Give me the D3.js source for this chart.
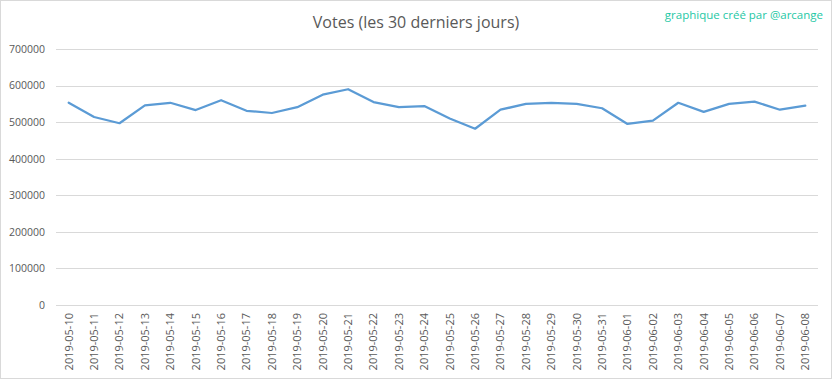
<!DOCTYPE html>
<html><head><meta charset="utf-8">
<script src="https://cdn.jsdelivr.net/npm/d3@7"></script>
<style>
body{margin:0;background:#fff;}
svg{display:block;}
text{font-family:"Open Sans","Liberation Sans",sans-serif;}
</style></head>
<body><svg id="c" width="832" height="379"></svg>
<script>
const dates = ["2019-05-10","2019-05-11","2019-05-12","2019-05-13","2019-05-14","2019-05-15","2019-05-16","2019-05-17","2019-05-18","2019-05-19","2019-05-20","2019-05-21","2019-05-22","2019-05-23","2019-05-24","2019-05-25","2019-05-26","2019-05-27","2019-05-28","2019-05-29","2019-05-30","2019-05-31","2019-06-01","2019-06-02","2019-06-03","2019-06-04","2019-06-05","2019-06-06","2019-06-07","2019-06-08"];
const votes = [553000,514000,497000,546000,553000,533000,560000,531000,525000,541000,575000,590000,555000,541000,544000,510000,482000,534000,550000,553000,550000,538000,495000,504000,553000,528000,550000,556000,534000,545000];
const yTicks = [0,100000,200000,300000,400000,500000,600000,700000];
const title = "Votes (les 30 derniers jours)";
const credit = "graphique créé par @arcange";

const svg = d3.select("#c");
svg.append("rect").attr("x",0.5).attr("y",0.5).attr("width",831).attr("height",378)
  .attr("fill","#fff").attr("stroke","#d9d9d9");

const m = {left:56, right:818, top:49, bottom:305};
const x = d3.scaleBand().domain(dates).range([m.left,m.right]);
const y = d3.scaleLinear().domain([0,700000]).range([m.bottom,m.top]);

// grid
svg.append("g").selectAll("line").data(yTicks).join("line")
  .attr("x1",m.left).attr("x2",m.right)
  .attr("y1",d=>Math.round(y(d))+0.5).attr("y2",d=>Math.round(y(d))+0.5)
  .attr("stroke","#d9d9d9").attr("stroke-width",1);

// y axis labels
const yAxis = d3.axisLeft(y).tickValues(yTicks).tickSize(0).tickPadding(0).tickFormat(d3.format("d"));
const gy = svg.append("g").attr("transform",`translate(45,0)`).call(yAxis);
gy.select(".domain").remove();
gy.selectAll("text").attr("fill","#595959").style("font-size","10.5px")
  .style("font-family",'"Open Sans","Liberation Sans",sans-serif');

// x axis labels
const xAxis = d3.axisBottom(x).tickSize(0).tickPadding(0);
const gx = svg.append("g").attr("transform",`translate(0,${m.bottom})`).call(xAxis);
gx.select(".domain").remove();
gx.selectAll("text").attr("fill","#595959").style("font-size","11px")
  .style("font-family",'"Open Sans","Liberation Sans",sans-serif')
  .attr("transform","rotate(-90)").attr("text-anchor","end")
  .attr("x",-8).attr("y",0).attr("dy","0.35em");

// line
const line = d3.line().x((d,i)=>x(dates[i])+x.bandwidth()/2).y(d=>y(d));
svg.append("path").datum(votes).attr("d",line).attr("fill","none")
  .attr("stroke","#5b9bd5").attr("stroke-width",2.25).attr("stroke-linejoin","round").attr("stroke-linecap","round");

// title
svg.append("text").attr("x",416).attr("y",28).attr("text-anchor","middle")
  .attr("fill","#595959").style("font-size","16px").text(title);
svg.append("text").attr("x",823).attr("y",19).attr("text-anchor","end")
  .attr("fill","#1ec8a5").style("font-size","11.5px").text(credit);
</script></body></html>
